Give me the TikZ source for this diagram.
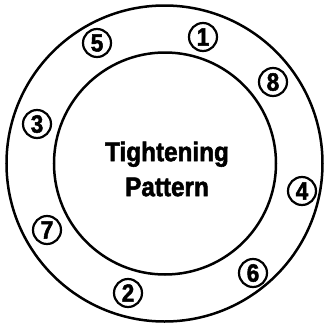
\documentclass[tikz,border=0pt]{standalone}
\usepackage{fontspec}
\setmainfont{Liberation Sans}
\newfontfamily\dinfont{Liberation Sans}[BoldFeatures={FakeBold=2, FakeStretch=0.9}]
\begin{document}
\begin{tikzpicture}[
    x=1pt, y=-1pt,
    ring/.style={draw, line width=2.5pt},
    bolt/.style={draw, circle, line width=2.2pt, minimum size=28pt, inner sep=0pt,
        font=\dinfont\bfseries\fontsize{25}{25}\selectfont}
]
    \useasboundingbox (0,0) rectangle (324,325);

    % Flange rings
    \draw[ring] (164.5,163.5) circle[radius=158];
    \draw[ring] (165,163.5) circle[radius=111];

    \node[align=center, font=\dinfont\bfseries\fontsize{27}{35}\selectfont] (title) at (167,169) {Tightening\\Pattern};

    % Bolt order
    \node[bolt] (b1) at (203,37) {1};
    \node[bolt] (b2) at (128,293) {2};
    \node[bolt] (b3) at (37,124) {3};
    \node[bolt] (b4) at (302,191) {4};
    \node[bolt] (b5) at (97,43) {5};
    \node[bolt] (b6) at (253,273) {6};
    \node[bolt] (b7) at (47,230) {7};
    \node[bolt] (b8) at (273,82) {8};
\end{tikzpicture}
\end{document}
